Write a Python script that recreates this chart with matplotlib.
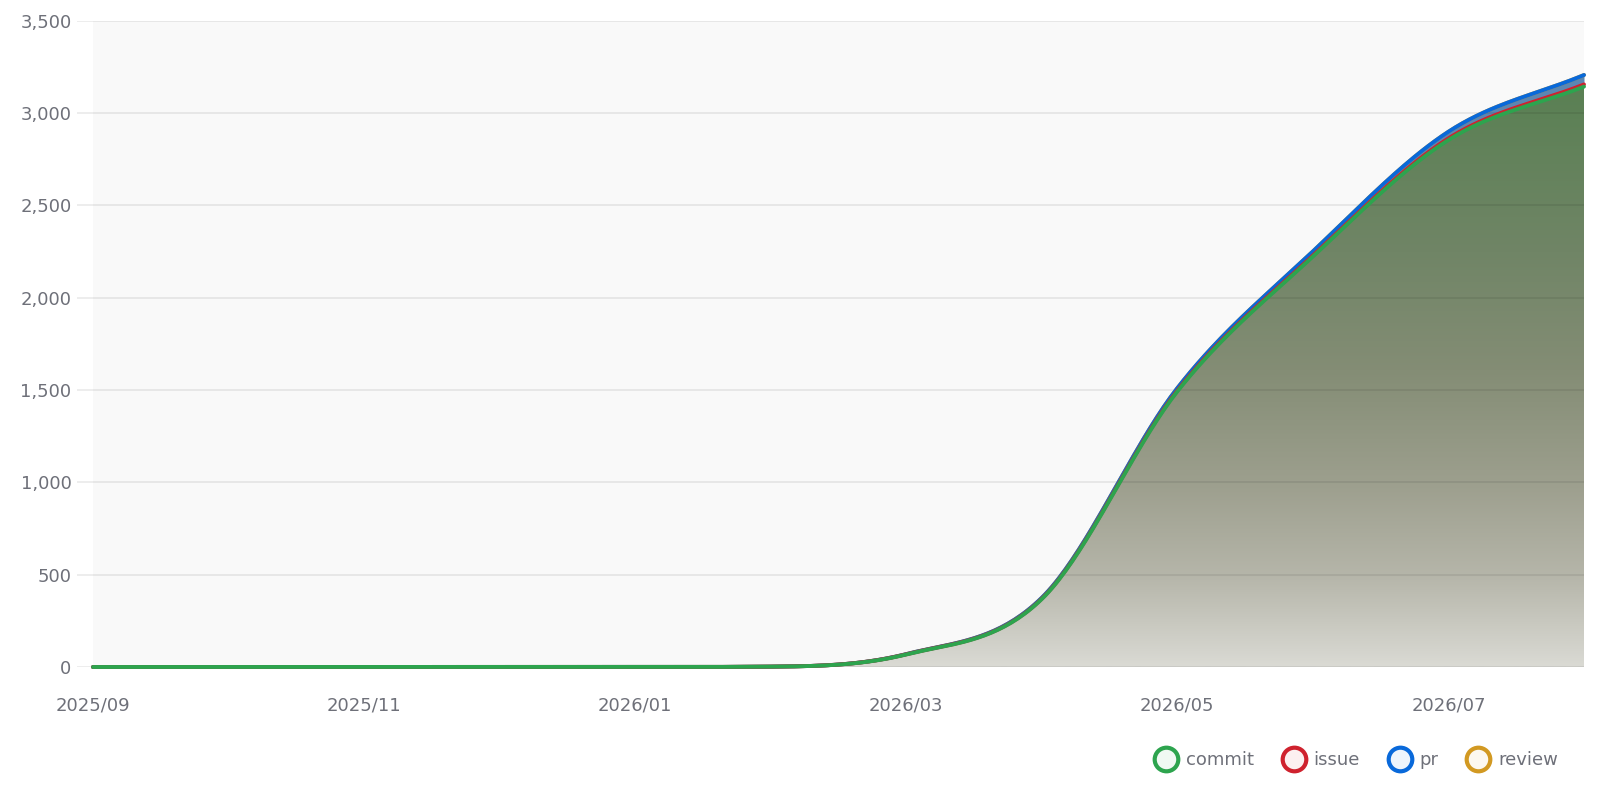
import matplotlib; matplotlib.use("Agg"); import matplotlib.pyplot as plt
import numpy as np
from matplotlib.lines import Line2D
from matplotlib.colors import to_rgb

plt.rcParams["font.family"] = ["DejaVu Sans"]

# ═══════ Data (cumulative counts per month, stacked) ═══════
months = ["2025/09", "2025/10", "2025/11", "2025/12", "2026/01", "2026/02",
          "2026/03", "2026/04", "2026/05", "2026/06", "2026/07", "2026/08"]
commit = [0, 0, 0, 0, 0, 2, 68, 368, 1492, 2222, 2853, 3142]
issue  = [0, 0, 0, 0, 0, 0, 1, 2, 5, 6, 9, 12]
pr     = [0, 0, 0, 0, 0, 0, 1, 5, 13, 22, 36, 51]
review = [0, 0, 0, 0, 0, 0, 0, 0, 0, 0, 0, 0]
yticks = [0, 500, 1000, 1500, 2000, 2500, 3000, 3500]

colors = {"commit": "#2da44e", "issue": "#cf222e", "pr": "#0969da", "review": "#d29922"}
txt = "#6e7079"


def smooth(y, n=40):
    """monotone cubic (Fritsch-Carlson) through monthly points, like a smoothed line"""
    y = np.asarray(y, float)
    x = np.arange(len(y), dtype=float)
    d = np.diff(y)
    m = np.zeros_like(y)
    m[0], m[-1] = d[0], d[-1]
    for i in range(1, len(y) - 1):
        m[i] = 0.0 if d[i - 1] * d[i] <= 0 else (d[i - 1] + d[i]) / 2
    for i in range(len(d)):
        if d[i] == 0:
            m[i] = m[i + 1] = 0.0
            continue
        a, b = m[i] / d[i], m[i + 1] / d[i]
        s = a * a + b * b
        if s > 9:
            t = 3 / np.sqrt(s)
            m[i], m[i + 1] = t * a * d[i], t * b * d[i]
    xs, ys = [], []
    for i in range(len(d)):
        t = np.linspace(0, 1, n, endpoint=(i == len(d) - 1))
        h00 = 2 * t**3 - 3 * t**2 + 1; h10 = t**3 - 2 * t**2 + t
        h01 = -2 * t**3 + 3 * t**2;    h11 = t**3 - t**2
        xs.append(x[i] + t)
        ys.append(h00 * y[i] + h10 * m[i] + h01 * y[i + 1] + h11 * m[i + 1])
    return np.concatenate(xs), np.concatenate(ys)


s1 = np.array(commit)
s2 = s1 + np.array(issue)
s3 = s2 + np.array(pr)
s4 = s3 + np.array(review)

x1, y1 = smooth(s1)
_, y2 = smooth(s2)
_, y3 = smooth(s3)
_, y4 = smooth(s4)

fig = plt.figure(figsize=(16, 8), dpi=100)
ax = fig.add_axes([77 / 1600, 1 - 667 / 800, (1584 - 77) / 1600, (667 - 20.5) / 800])
ax.set_facecolor("white")
x_lo = -16 / 135.5
ax.set_xlim(x_lo, len(months) - 1)
ax.set_ylim(0, 3500)

# plot background (starts at first category)
ax.axvspan(0, len(months) - 1, color="#f9f9f9", zorder=0, lw=0)

# gradient fill below commit line
ymax = float(s4.max())
stops_v = np.array([0.0, 0.15, 0.3, 0.5, 0.7, 1.0])
stops_c = np.array([(218, 218, 212), (182, 182, 170), (158, 160, 143),
                    (132, 141, 117), (112, 133, 102), (88, 128, 82)]) / 255
vv = np.linspace(0, 1, 256)
img = np.stack([np.interp(vv, stops_v, stops_c[:, k]) for k in range(3)], axis=1)[:, None, :]
poly = ax.fill_between(x1, 0, y1, facecolor="none", edgecolor="none")
im = ax.imshow(img, extent=[0, len(months) - 1, 0, ymax], origin="lower",
               aspect="auto", zorder=1, interpolation="bilinear")
im.set_clip_path(poly.get_paths()[0], transform=ax.transData)

ax.fill_between(x1, y1, y2, color="#b06a6a", lw=0, zorder=1.1)
ax.fill_between(x1, y2, y3, color="#5b87b3", lw=0, zorder=1.1)

# grid lines drawn over the fill, semi-transparent
for v in yticks:
    ax.axhline(v, color="black", alpha=0.08, lw=1.3, zorder=1.5)

# lines: commit drawn last (on top)
kw = dict(lw=2.8, solid_capstyle="round", clip_on=False)
ax.plot(x1, y4, color=colors["review"], zorder=2.0, **kw)
ax.plot(x1, y3, color=colors["pr"], zorder=2.1, **kw)
ax.plot(x1, y2, color=colors["issue"], zorder=2.2, **kw)
ax.plot(x1, y1, color=colors["commit"], zorder=2.3, **kw)

ax.set_yticks(yticks)
ax.set_yticklabels([f"{v:,}" for v in yticks])
ax.set_xticks(range(0, len(months), 2))
ax.set_xticklabels(months[::2])
ax.tick_params(axis="both", length=0, labelsize=13, colors=txt)
ax.tick_params(axis="y", pad=4)
ax.tick_params(axis="x", pad=21)
for sp in ax.spines.values():
    sp.set_visible(False)

handles = []
for name, c in colors.items():
    face = 0.93 * np.ones(3) + 0.07 * np.array(to_rgb(c))
    handles.append(Line2D([], [], ls="none", marker="o", markersize=17,
                          markeredgewidth=3.0, markeredgecolor=c, markerfacecolor=face))
fig.legend(handles, list(colors.keys()), loc="center right", bbox_to_anchor=(0.984, 0.05),
           ncol=4, frameon=False, fontsize=13, labelcolor=txt,
           handletextpad=0.4, columnspacing=1.5, handlelength=1.4)

fig.savefig("out.png", dpi=100)
